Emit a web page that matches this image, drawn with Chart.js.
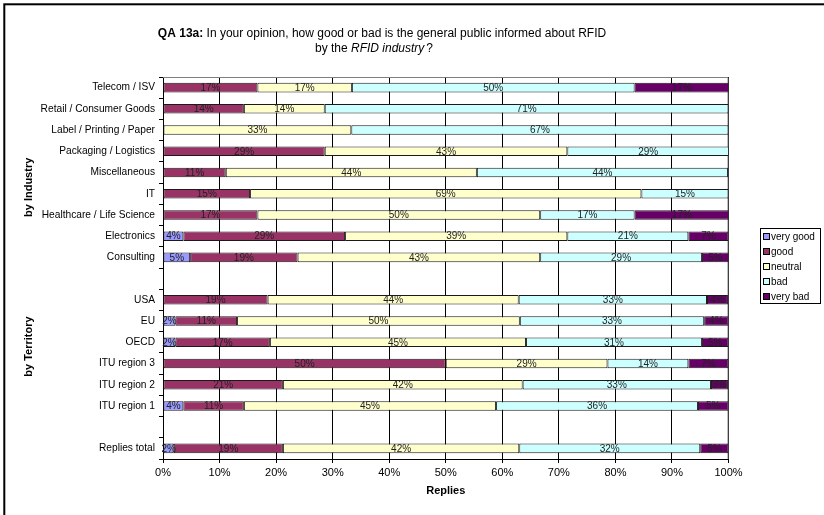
<!DOCTYPE html>
<html><head><meta charset="utf-8">
<script src="https://cdn.jsdelivr.net/npm/chart.js@4"></script>
<style>html,body{margin:0;padding:0;background:#fff}#wrap{width:824px;height:515px}</style>
</head><body><div id="wrap"><canvas id="c" width="824" height="515"></canvas></div>
<script>
const categories = ['Telecom / ISV','Retail / Consumer Goods','Label / Printing / Paper','Packaging / Logistics','Miscellaneous','IT','Healthcare / Life Science','Electronics','Consulting','','USA','EU','OECD','ITU region 3','ITU region 2','ITU region 1','','Replies total'];
const seriesNames = ['very good','good','neutral','bad','very bad'];
const veryGood = [0,0,0,0,0,0,0,3.6,4.8,null,0,2.2,2.2,0,0,3.6,null,1.9];
const good     = [16.7,14.3,0,28.6,11.1,15.4,16.7,28.6,19.0,null,18.5,10.9,16.7,50,21.2,10.7,null,19.3];
const neutral  = [16.7,14.3,33.3,42.9,44.4,69.2,50.0,39.3,42.9,null,44.4,50.0,45.3,28.6,42.4,44.6,null,41.8];
const bad      = [50.0,71.4,66.7,28.6,44.4,15.4,16.7,21.4,28.6,null,33.3,32.6,31.1,14.3,33.3,35.7,null,32.0];
const veryBad  = [16.7,0,0,0,0,0,16.7,7.1,4.8,null,3.7,4.3,4.7,7.1,3.0,5.4,null,5.0];
const xTicks = [0,10,20,30,40,50,60,70,80,90,100];
const colors = ['#9999FF','#993366','#FFFFCC','#CCFFFF','#660066'];
const FONT = "'Liberation Sans', Arial, sans-serif";

const deco = {
  id: 'deco',
  beforeDraw(chart) {
    const c = chart.ctx; c.save(); c.fillStyle = '#fff'; c.fillRect(0,0,chart.width,chart.height); c.restore();
  },
  beforeDatasetsDraw(chart) {
    const c = chart.ctx, a = chart.chartArea;
    c.save(); c.strokeStyle = '#808080'; c.lineWidth = 1;
    c.beginPath(); c.moveTo(a.left, a.top + 0.5); c.lineTo(a.right - 0.5, a.top + 0.5); c.lineTo(a.right - 0.5, a.bottom); c.stroke();
    c.restore();
  },
  afterDatasetsDraw(chart) {
    const c = chart.ctx;
    c.save();
    c.font = '10px ' + FONT; c.fillStyle = '#222'; c.textAlign = 'center'; c.textBaseline = 'middle';
    chart.data.datasets.forEach((ds, i) => {
      const meta = chart.getDatasetMeta(i);
      meta.data.forEach((el, j) => {
        const v = ds.data[j];
        if (v == null || v <= 0) return;
        const p = el.getProps(['x','y','base'], true);
        c.fillText(Math.round(v) + '%', (p.x + p.base) / 2, p.y + 0.5);
      });
    });
    c.restore();
  },
  afterDraw(chart) {
    const c = chart.ctx, ys = chart.scales.y;
    c.save();
    // title
    c.fillStyle = '#000'; c.textBaseline = 'alphabetic';
    const l1a = 'QA 13a: ', l1b = 'In your opinion, how good or bad is the general public informed about RFID';
    c.font = 'bold 12px ' + FONT; const wa = c.measureText(l1a).width;
    c.font = '12px ' + FONT; const wb = c.measureText(l1b).width;
    let x = 382 - (wa + wb) / 2;
    c.textAlign = 'left';
    c.font = 'bold 12px ' + FONT; c.fillText(l1a, x, 37);
    c.font = '12px ' + FONT; c.fillText(l1b, x + wa, 37);
    const p1 = 'by the ', p2 = 'RFID industry', p3 = '?';
    c.font = '12px ' + FONT; const w1 = c.measureText(p1).width, w3 = c.measureText(p3).width;
    c.font = 'italic 12px ' + FONT; const w2 = c.measureText(p2).width;
    x = 374 - (w1 + w2 + w3 + 2) / 2;
    c.font = '12px ' + FONT; c.fillText(p1, x, 51.5);
    c.font = 'italic 12px ' + FONT; c.fillText(p2, x + w1, 51.5);
    c.font = '12px ' + FONT; c.fillText(p3, x + w1 + w2 + 2, 51.5);
    // group titles
    c.font = 'bold 11px ' + FONT; c.textAlign = 'center'; c.textBaseline = 'middle';
    [['by Industry', 4.7], ['by Territory', 12.2]].forEach(([t, v]) => {
      c.save(); c.translate(29, ys.getPixelForValue(v)); c.rotate(-Math.PI / 2); c.fillText(t, 0, 0); c.restore();
    });
    // legend
    c.strokeStyle = '#000'; c.lineWidth = 1;
    c.strokeRect(760.5, 228.5, 60, 75);
    c.font = '10px ' + FONT; c.textAlign = 'left';
    chart.data.datasets.forEach((ds, i) => {
      const yy = 236.5 + i * 15;
      c.fillStyle = ds.backgroundColor; c.fillRect(763.5, yy - 3, 6, 6);
      c.strokeStyle = '#000'; c.strokeRect(763.5, yy - 3, 6, 6);
      c.fillStyle = '#000'; c.fillText(ds.label, 771, yy + 0.5);
    });
    // outer frame
    c.strokeStyle = '#000'; c.lineWidth = 2;
    c.strokeRect(4.3, 4.3, 840, 540);
    c.restore();
  }
};

const dataArrays = [veryGood, good, neutral, bad, veryBad];
new Chart(document.getElementById('c'), {
  type: 'bar',
  data: {
    labels: categories,
    datasets: dataArrays.map((d, i) => ({
      label: seriesNames[i], data: d, backgroundColor: colors[i],
      borderColor: '#1a1a1a', borderWidth: 1, borderSkipped: false,
      barPercentage: 0.45, categoryPercentage: 1
    }))
  },
  options: {
    indexAxis: 'y', responsive: false, animation: false, devicePixelRatio: 1,
    layout: { padding: { top: 77, right: 95.5, left: 0, bottom: 0 } },
    plugins: { legend: { display: false }, tooltip: { enabled: false }, title: { display: false } },
    scales: {
      x: {
        stacked: true, min: 0, max: 100,
        afterBuildTicks(s) { s.ticks = xTicks.map(v => ({ value: v })); },
        afterFit(s) { s.height = 56; },
        grid: { color: '#000', lineWidth: 1, tickLength: 4, drawTicks: true },
        border: { color: '#000', width: 1 },
        ticks: { callback: v => v + '%', font: { family: FONT, size: 11 }, color: '#000', padding: 3, maxRotation: 0 },
        title: { display: true, text: 'Replies', font: { family: FONT, size: 11, weight: 'bold' }, color: '#000', padding: { top: 4, bottom: 17 } }
      },
      y: {
        stacked: true,
        afterFit(s) { s.width = 163; },
        grid: { drawOnChartArea: false, color: '#000', tickLength: 4, offset: true },
        border: { color: '#000', width: 1 },
        ticks: { autoSkip: false, font: { family: FONT, size: 10.2 }, color: '#000', padding: 4 }
      }
    }
  },
  plugins: [deco]
});
</script></body></html>
